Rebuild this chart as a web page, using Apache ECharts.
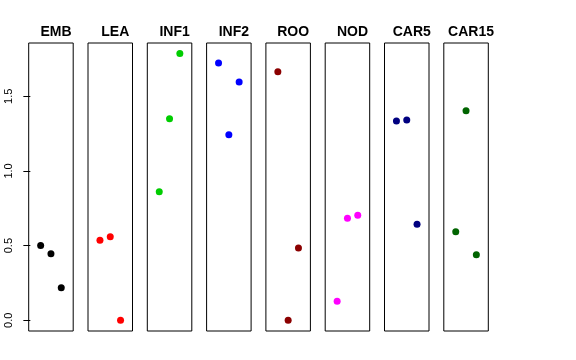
<!DOCTYPE html>
<html><head><meta charset="utf-8">
<script src="https://cdn.jsdelivr.net/npm/echarts@6/dist/echarts.min.js"></script>
<style>html,body{margin:0;padding:0;background:#fff}#c{width:576px;height:360px}</style>
</head><body><div id="c"></div>
<script>
const groups = ['EMB','LEA','INF1','INF2','ROO','NOD','CAR5','CAR15'];
const colors = ['#000000','#FF0000','#00CD00','#0000FF','#8B0000','#FF00FF','#000080','#006400'];
const values = [
  [0.500, 0.446, 0.218],
  [0.536, 0.560, 0.000],
  [0.861, 1.350, 1.786],
  [1.723, 1.243, 1.596],
  [1.665, 0.000, 0.484],
  [0.127, 0.683, 0.703],
  [1.335, 1.342, 0.643],
  [0.593, 1.404, 0.439]
];
const yTicks = [0, 0.5, 1, 1.5];
const yTickLabels = ['0.0','0.5','1.0','1.5'];

const chart = echarts.init(document.getElementById('c'), null, {renderer:'canvas'});
const L0 = 28.7, STEP = 59.3, W = 44.5, TOP = 43, H = 288;
const grids = [], xAxes = [], yAxes = [], series = [], titles = [];
groups.forEach((g, i) => {
  const left = L0 + i * STEP;
  grids.push({left: left, top: TOP, width: W, height: H, show: true, borderColor: '#000', borderWidth: 1, backgroundColor: 'transparent'});
  xAxes.push({gridIndex: i, type: 'value', min: -0.16, max: 4.16, show: false});
  yAxes.push({
    gridIndex: i, type: 'value', min: -0.072, max: 1.857, show: i === 0,
    splitLine: {show: false},
    axisLine: {show: false},
    axisTick: {show: true, length: 7, lineStyle: {color: '#000'}, customValues: yTicks},
    axisLabel: {show: true, rotate: 90, fontSize: 11, color: '#000', margin: 14,
      fontFamily: 'Liberation Sans, Arial, sans-serif',
      customValues: yTicks,
      formatter: v => { const k = yTicks.findIndex(t => Math.abs(t - v) < 1e-6); return k >= 0 ? yTickLabels[k] : ''; }}
  });
  series.push({
    type: 'scatter', xAxisIndex: i, yAxisIndex: i, symbol: 'circle', symbolSize: 7,
    itemStyle: {color: colors[i], opacity: 1}, silent: true,
    data: values[i].map((v, j) => [j + 1, v])
  });
  titles.push({text: g, left: left + W / 2, top: 20, textAlign: 'center',
    textStyle: {fontSize: 14, fontWeight: 'bold', color: '#000', fontFamily: 'Liberation Sans, Arial, sans-serif'}});
});
chart.setOption({animation: false, title: titles, grid: grids, xAxis: xAxes, yAxis: yAxes, series: series});
</script></body></html>
